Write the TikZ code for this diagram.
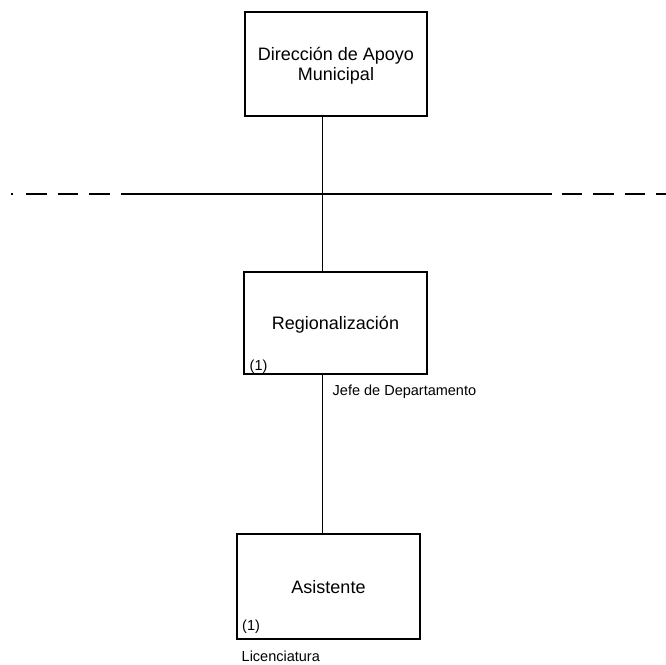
\documentclass[tikz,border=0pt]{standalone}
\usepackage{fontspec}
\setmainfont{Liberation Sans}
\begin{document}
\begin{tikzpicture}[x=1pt,y=-1pt,
  box/.style={draw,line width=1.1pt,inner sep=0pt,align=center,text depth=0pt,font=\fontsize{18}{20}\selectfont},
  small/.style={inner sep=0pt,anchor=west,font=\fontsize{14.5}{16}\selectfont},
  conn/.style={line width=1.1pt},
  rule/.style={line width=1.2pt}]
\useasboundingbox (0,0) rectangle (666,664);
% boxes
\node[box,minimum width=182pt,minimum height=104pt] (top) at (336,64) {Dirección de Apoyo\\Municipal};
\node[box,minimum width=183pt,minimum height=102pt] (mid) at (335.5,323) {Regionalización};
\node[box,minimum width=183pt,minimum height=105pt] (bot) at (328.5,586.5) {Asistente};
% small labels
\node[small] (m1) at (249.5,367) {(1)};
\node[small] (b1) at (242,627) {(1)};
\node[small] (jefe) at (332.5,391.5) {Jefe de Departamento};
\node[small] (lic) at (241.5,656.5) {Licenciatura};
% connectors
\coordinate (vx) at (322.7,0);
\draw[conn] (top.south -| vx) -- (mid.north -| vx);
\draw[conn] (mid.south -| vx) -- (bot.north -| vx);
% horizontal rule
\coordinate (rl) at (121,194);
\coordinate (rr) at (552,194);
\draw[rule] (rl) -- (rr);
\coordinate (dot) at (11,194);
\draw[rule] (dot) -- ++(2,0);
\foreach \x [count=\i] in {26,57.5,89,561.5,593,624.5,656}{
  \coordinate (d\i) at (\x,194);
  \draw[rule] (d\i) -- ++(20.5,0);
}
\end{tikzpicture}
\end{document}
